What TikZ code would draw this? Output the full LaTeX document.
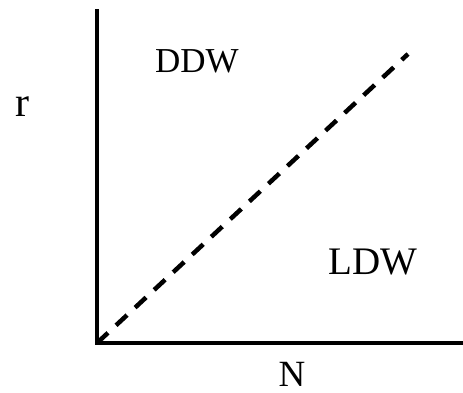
\documentclass[tikz,border=0pt]{standalone}
\usepackage{fontspec}
\setmainfont{Liberation Serif}
\begin{document}
\begin{tikzpicture}[x=1pt, y=-1pt,
  axis/.style={line width=4.5pt, line cap=rect},
  lbl/.style={font=\fontsize{34}{40}\selectfont, inner sep=0pt}]
  \useasboundingbox (0,0) rectangle (463,392);
  \coordinate (O) at (97,343);
  \coordinate (ytop) at (97,11);
  \coordinate (xend) at (470,343);
  \coordinate (tip) at (408,54);
  \draw[axis] (ytop) -- (O) -- (xend);
  \draw[line width=4.5pt, dash pattern=on 15pt off 11pt] (O) -- (tip);
  \node[lbl, anchor=base, font=\fontsize{42}{48}\selectfont] (r) at (22,116) {r};
  \node[lbl, anchor=base, font=\fontsize{35}{40}\selectfont] (ddw) at (197,72) {DDW};
  \node[lbl, anchor=base, font=\fontsize{39}{44}\selectfont] (ldw) at (373,274) {LDW};
  \node[lbl, anchor=base, font=\fontsize{37}{44}\selectfont] (n) at (292,386) {N};
\end{tikzpicture}
\end{document}
